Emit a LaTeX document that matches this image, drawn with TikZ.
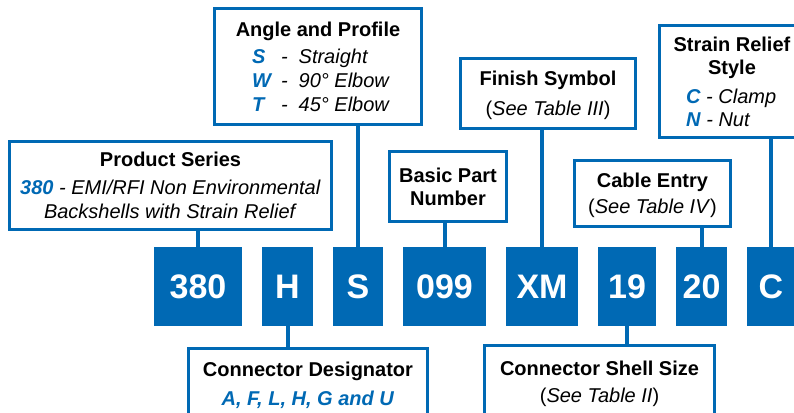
\documentclass[tikz,border=0pt]{standalone}
\usepackage{fontspec}
\setmainfont{Liberation Sans}
\usetikzlibrary{positioning}

\definecolor{pnblue}{HTML}{0069B4}
\newcommand{\sel}[1]{\textcolor{pnblue}{\textbf{\textit{#1}}}}
\newcommand{\pick}[2]{\makebox[29pt][l]{\sel{#1}}\textit{-}\hspace{11pt}\textit{#2}}

\begin{document}
\begin{tikzpicture}[x=1pt,y=-1pt,node distance=20pt,
                    code node/.style={fill=pnblue,text=white,inner sep=0pt,outer sep=0pt,
                      minimum height=79pt,font=\fontsize{34}{40}\selectfont\bfseries},
                    label node/.style={draw=pnblue,line width=3pt,fill=white,inner sep=0pt,
                      align=center,font=\fontsize{20}{24}\selectfont},
                    link/.style={draw=pnblue,line width=4pt}]

  \useasboundingbox (0,0) rectangle (794,412);
  \clip (0,0) rectangle (794,412);

  % part number
  \node[code node,minimum width=88pt] (1) at (198,286.5) {380};
  \node[code node,minimum width=51pt] (2) [right=of 1] {H};
  \node[code node,minimum width=50pt] (3) [right=of 2] {S};
  \node[code node,minimum width=83pt] (4) [right=of 3] {099};
  \node[code node,minimum width=72pt] (5) [right=of 4] {XM};
  \node[code node,minimum width=58pt] (6) [right=of 5] {19};
  \node[code node,minimum width=51pt] (7) [right=of 6] {20};
  \node[code node,minimum width=48pt] (8) [right=of 7] {C};

  % what each part means
  \node[label node,minimum width=322pt,minimum height=88pt] (l1) at (170.5,185.5)
    {\textbf{Product Series}\\[4pt]
     \sel{380} \textit{- EMI/RFI Non Environmental}\\
     \textit{Backshells with Strain Relief}};
  \node[label node,minimum width=207pt,minimum height=116pt] (l3) at (318,66.5)
    {\textbf{Angle and Profile}\\[3pt]
     \makebox[132pt][l]{\pick{S}{Straight}}\\
     \makebox[132pt][l]{\pick{W}{90° Elbow}}\\
     \makebox[132pt][l]{\pick{T}{45° Elbow}}};
  \node[label node,minimum width=117pt,minimum height=70pt] (l4) at (448,186.5)
    {\textbf{Basic Part}\\[-1pt] \textbf{Number}};
  \node[label node,minimum width=175pt,minimum height=70pt] (l5) at (548,93.5)
    {\textbf{Finish Symbol}\\[6pt] \smash{(\textit{See Table III})}};
  \node[label node,minimum width=156pt,minimum height=66pt] (l7) at (652.5,193.5)
    {\textbf{Cable Entry}\\[2pt] \smash{(\textit{See Table IV})}};
  \node[label node,minimum width=145pt,minimum height=112pt] (l8) at (732,81.5)
    {\textbf{Strain Relief}\\[-1pt] \textbf{Style}\\[5pt]
     \makebox[92pt][l]{\sel{C} \textit{- Clamp}}\\[-1pt]
     \makebox[92pt][l]{\sel{N} \textit{- Nut}}};
  \node[label node,minimum width=239pt,minimum height=70pt] (l2) at (308,383.5)
    {\textbf{Connector Designator}\\[5pt] \smash{\sel{A, F, L, H, G and U}}};
  \node[label node,minimum width=230pt,minimum height=72pt] (l6) at (599.5,381.5)
    {\textbf{Connector Shell Size}\\[3pt] \smash{(\textit{See Table II})}};

  \path[link]
    (1) edge[link] (1.north |- l1.south)
    (3) edge[link] (3.north |- l3.south)
    (4) edge[link] (4.north |- l4.south)
    (5) edge[link] (5.north |- l5.south)
    (7) edge[link] (7.north |- l7.south)
    (8) edge[link] (8.north |- l8.south)
    (2) edge[link] (2.south |- l2.north)
    (6) edge[link] (6.south |- l6.north);
\end{tikzpicture}
\end{document}
